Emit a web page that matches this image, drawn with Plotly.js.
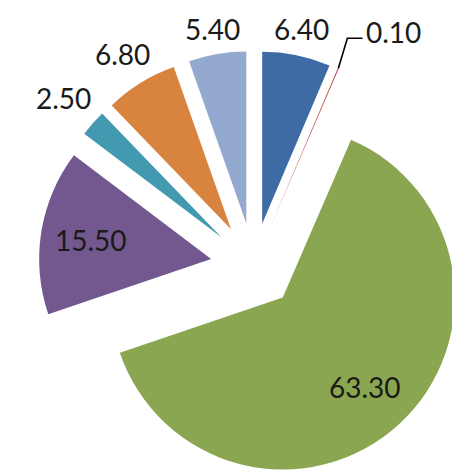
<!DOCTYPE html>
<html>
<head>
<meta charset="utf-8">
<script src="https://cdn.plot.ly/plotly-3.0.1.min.js"></script>
<style>
html,body{margin:0;padding:0;overflow:hidden;background:#fff;width:452px;height:476px;}
#chart{width:520px;height:520px;}
</style>
</head>
<body>
<div id="chart"></div>
<script>
var categories = ["A", "B", "C", "D", "E", "F", "G"];
var values = [6.40, 0.10, 63.30, 15.50, 2.50, 6.80, 5.40];
var sliceColors = ["#3F6BA5", "#C0504D", "#8BA650", "#72588E", "#4299B0", "#D9843E", "#94A9D0"];
var labelPlacement = ["outside", "outside", "inside", "inside", "outside", "outside", "outside"];

// layout constants (pixels)
var W = 520, H = 520;
var cx = 253.6, cy = 265.9, half = 215;
var pullFrac = 0.25;
var fontSize = 28;
var labelFont = {family: "Lato, 'Liberation Sans', sans-serif", size: fontSize, color: "#1a1a1a"};
var outsideGap = 11;
var insideFrac = 0.705;
var leaderOffset = [55, -36];

var R = half / (1 + pullFrac);
var off = pullFrac * R;
var total = values.reduce(function(a, b){ return a + b; }, 0);

function textWidth(t){
  var w = 0;
  for (var k = 0; k < t.length; k++) w += (t[k] === "." ? 0.25 : 0.58) * fontSize;
  return w;
}
function toPaper(px, py){ return [px / W, 1 - py / H]; }

var annotations = [];
var shapes = [];
var placed = [];
var cum = 0;
values.forEach(function(v, i){
  var mid = (cum + v / 2) / total * 2 * Math.PI;
  cum += v;
  var dx = Math.sin(mid), dy = -Math.cos(mid);
  var ax = cx + off * dx, ay = cy + off * dy;
  var txt = v.toFixed(2);
  var w = textWidth(txt), h = 20;
  var px, py;
  if (labelPlacement[i] === "inside") {
    px = ax + insideFrac * R * dx;
    py = ay + insideFrac * R * dy;
  } else {
    var ext = Math.abs(w / 2 * dx) + Math.abs(h / 2 * dy);
    var D = R + outsideGap + ext;
    px = ax + D * dx;
    py = ay + D * dy;
    var hit = placed.some(function(b){
      return Math.abs(b[0] - px) < (b[2] + w) / 2 && Math.abs(b[1] - py) < (b[3] + h) / 2;
    });
    if (hit) {
      var tx = ax + R * dx, ty = ay + R * dy;
      px = tx + leaderOffset[0];
      py = ty + leaderOffset[1];
      var ex = tx + 9, ey = py + 6;
      var endx = px - w / 2 - 3;
      var p0 = toPaper(tx, ty), p1 = toPaper(ex, ey), p2 = toPaper(endx, ey);
      shapes.push({
        type: "path", xref: "paper", yref: "paper",
        path: "M" + p0[0] + "," + p0[1] + " L" + p1[0] + "," + p1[1] + " L" + p2[0] + "," + p2[1],
        line: {color: "#000000", width: 1.6}
      });
    }
    placed.push([px, py, w, h]);
  }
  var pp = toPaper(px, py);
  annotations.push({
    xref: "paper", yref: "paper", x: pp[0], y: pp[1],
    xanchor: "center", yanchor: "middle",
    text: txt, showarrow: false, font: labelFont
  });
});

var trace = {
  type: "pie",
  labels: categories,
  values: values,
  sort: false,
  direction: "clockwise",
  rotation: 0,
  pull: values.map(function(){ return pullFrac; }),
  marker: {colors: sliceColors, line: {width: 0}},
  textinfo: "none",
  hoverinfo: "none",
  domain: {
    x: [(cx - half) / W, (cx + half) / W],
    y: [(H - cy - half) / H, (H - cy + half) / H]
  }
};

var layout = {
  width: W, height: H,
  margin: {l: 0, r: 0, t: 0, b: 0},
  showlegend: false,
  paper_bgcolor: "#ffffff",
  font: {family: "Lato, 'Liberation Sans', sans-serif"},
  annotations: annotations,
  shapes: shapes
};

Plotly.newPlot("chart", [trace], layout, {staticPlot: true, displayModeBar: false});
</script>
</body>
</html>
